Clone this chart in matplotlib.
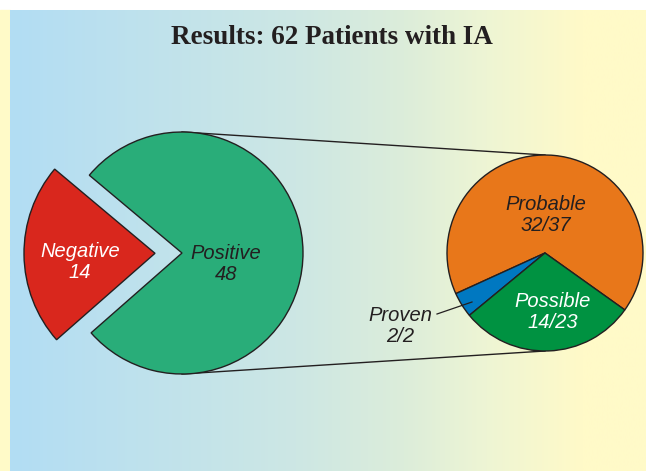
import matplotlib.pyplot as plt
import numpy as np
from matplotlib.colors import LinearSegmentedColormap

# Overall results
main_labels = ["Negative", "Positive"]
main_counts = [14, 48]

# Breakdown of the positive patients
sub_labels = ["Probable", "Proven", "Possible"]
sub_counts = [32, 2, 14]
sub_totals = [37, 2, 23]

W, H = 646, 471
fig = plt.figure(figsize=(W / 100, H / 100), dpi=100)

# background: white top strip, pale yellow left strip, blue->yellow panel
bg = fig.add_axes([0, 0, 1, 1])
bg.set_xlim(0, W)
bg.set_ylim(0, H)
bg.axis("off")
bg.add_patch(plt.Rectangle((0, 0), W, H, color="white", zorder=0))
bg.add_patch(plt.Rectangle((0, 0), 10, H - 10, color="#fffac8", zorder=1))
grad = LinearSegmentedColormap.from_list(
    "panel",
    [(0.0, "#b2ddf4"), (0.45, "#cde7e4"), (0.62, "#dcedda"),
     (0.75, "#eef5d4"), (0.9, "#fffac8"), (1.0, "#fffac8")],
)
bg.imshow(np.linspace(0, 1, 256)[None, :], cmap=grad, aspect="auto",
          extent=(10, W, 0, H - 10), zorder=2)

ax = fig.add_axes([0, 0, 1, 1])
ax.set_facecolor("none")

edge = dict(edgecolor="#231f20", linewidth=1.0)

# big pie (pixel coordinates, y measured from bottom)
big_c = (182, H - 253)
big_r = 121
# explode is in data units here (pixels)
wedges, _ = ax.pie(main_counts, colors=["#d9271d", "#29ad79"], startangle=140,
                   center=big_c, radius=big_r, wedgeprops=edge,
                   explode=[27, 0])
# the negative slice is drawn a little larger than the rest
wedges[0].set_radius(131)

# small pie
sm_c = (545, H - 253)
sm_r = 98
ax.pie(sub_counts, colors=["#e8771a", "#0078c1", "#009241"], startangle=-35.5,
       center=sm_c, radius=sm_r, wedgeprops=edge)

# connector lines between the two pies
for s in (1, -1):
    ax.plot([big_c[0], sm_c[0]], [big_c[1] + s * big_r, sm_c[1] + s * sm_r],
            color="#231f20", lw=1.0, zorder=0.5)

ax.set_xlim(0, W)
ax.set_ylim(0, H)
ax.set_aspect("equal")
ax.axis("off")

font = dict(family="Liberation Sans", style="italic", fontsize=14.5,
            ha="center", va="center", linespacing=1.1)
ax.text(80, H - 262, f"{main_labels[0]}\n{main_counts[0]}", color="white", **font)
ax.text(226, H - 264, f"{main_labels[1]}\n{main_counts[1]}", color="#231f20", **font)

label_pos = {"Probable": (546, H - 215), "Proven": (400, H - 326),
             "Possible": (553, H - 312)}
label_col = {"Probable": "#231f20", "Proven": "#231f20", "Possible": "white"}
for name, n, tot in zip(sub_labels, sub_counts, sub_totals):
    x, y = label_pos[name]
    ax.text(x, y, f"{name}\n{n}/{tot}", color=label_col[name], **font)

# leader for the small Proven slice
ax.plot([437, 472], [H - 314, H - 302], color="#231f20", lw=0.9)

ax.text(332, H - 38, "Results: 62 Patients with IA", family="Liberation Serif",
        fontweight="bold", fontsize=19.5, color="#231f20", ha="center", va="center")

fig.savefig("out.png", dpi=100)
